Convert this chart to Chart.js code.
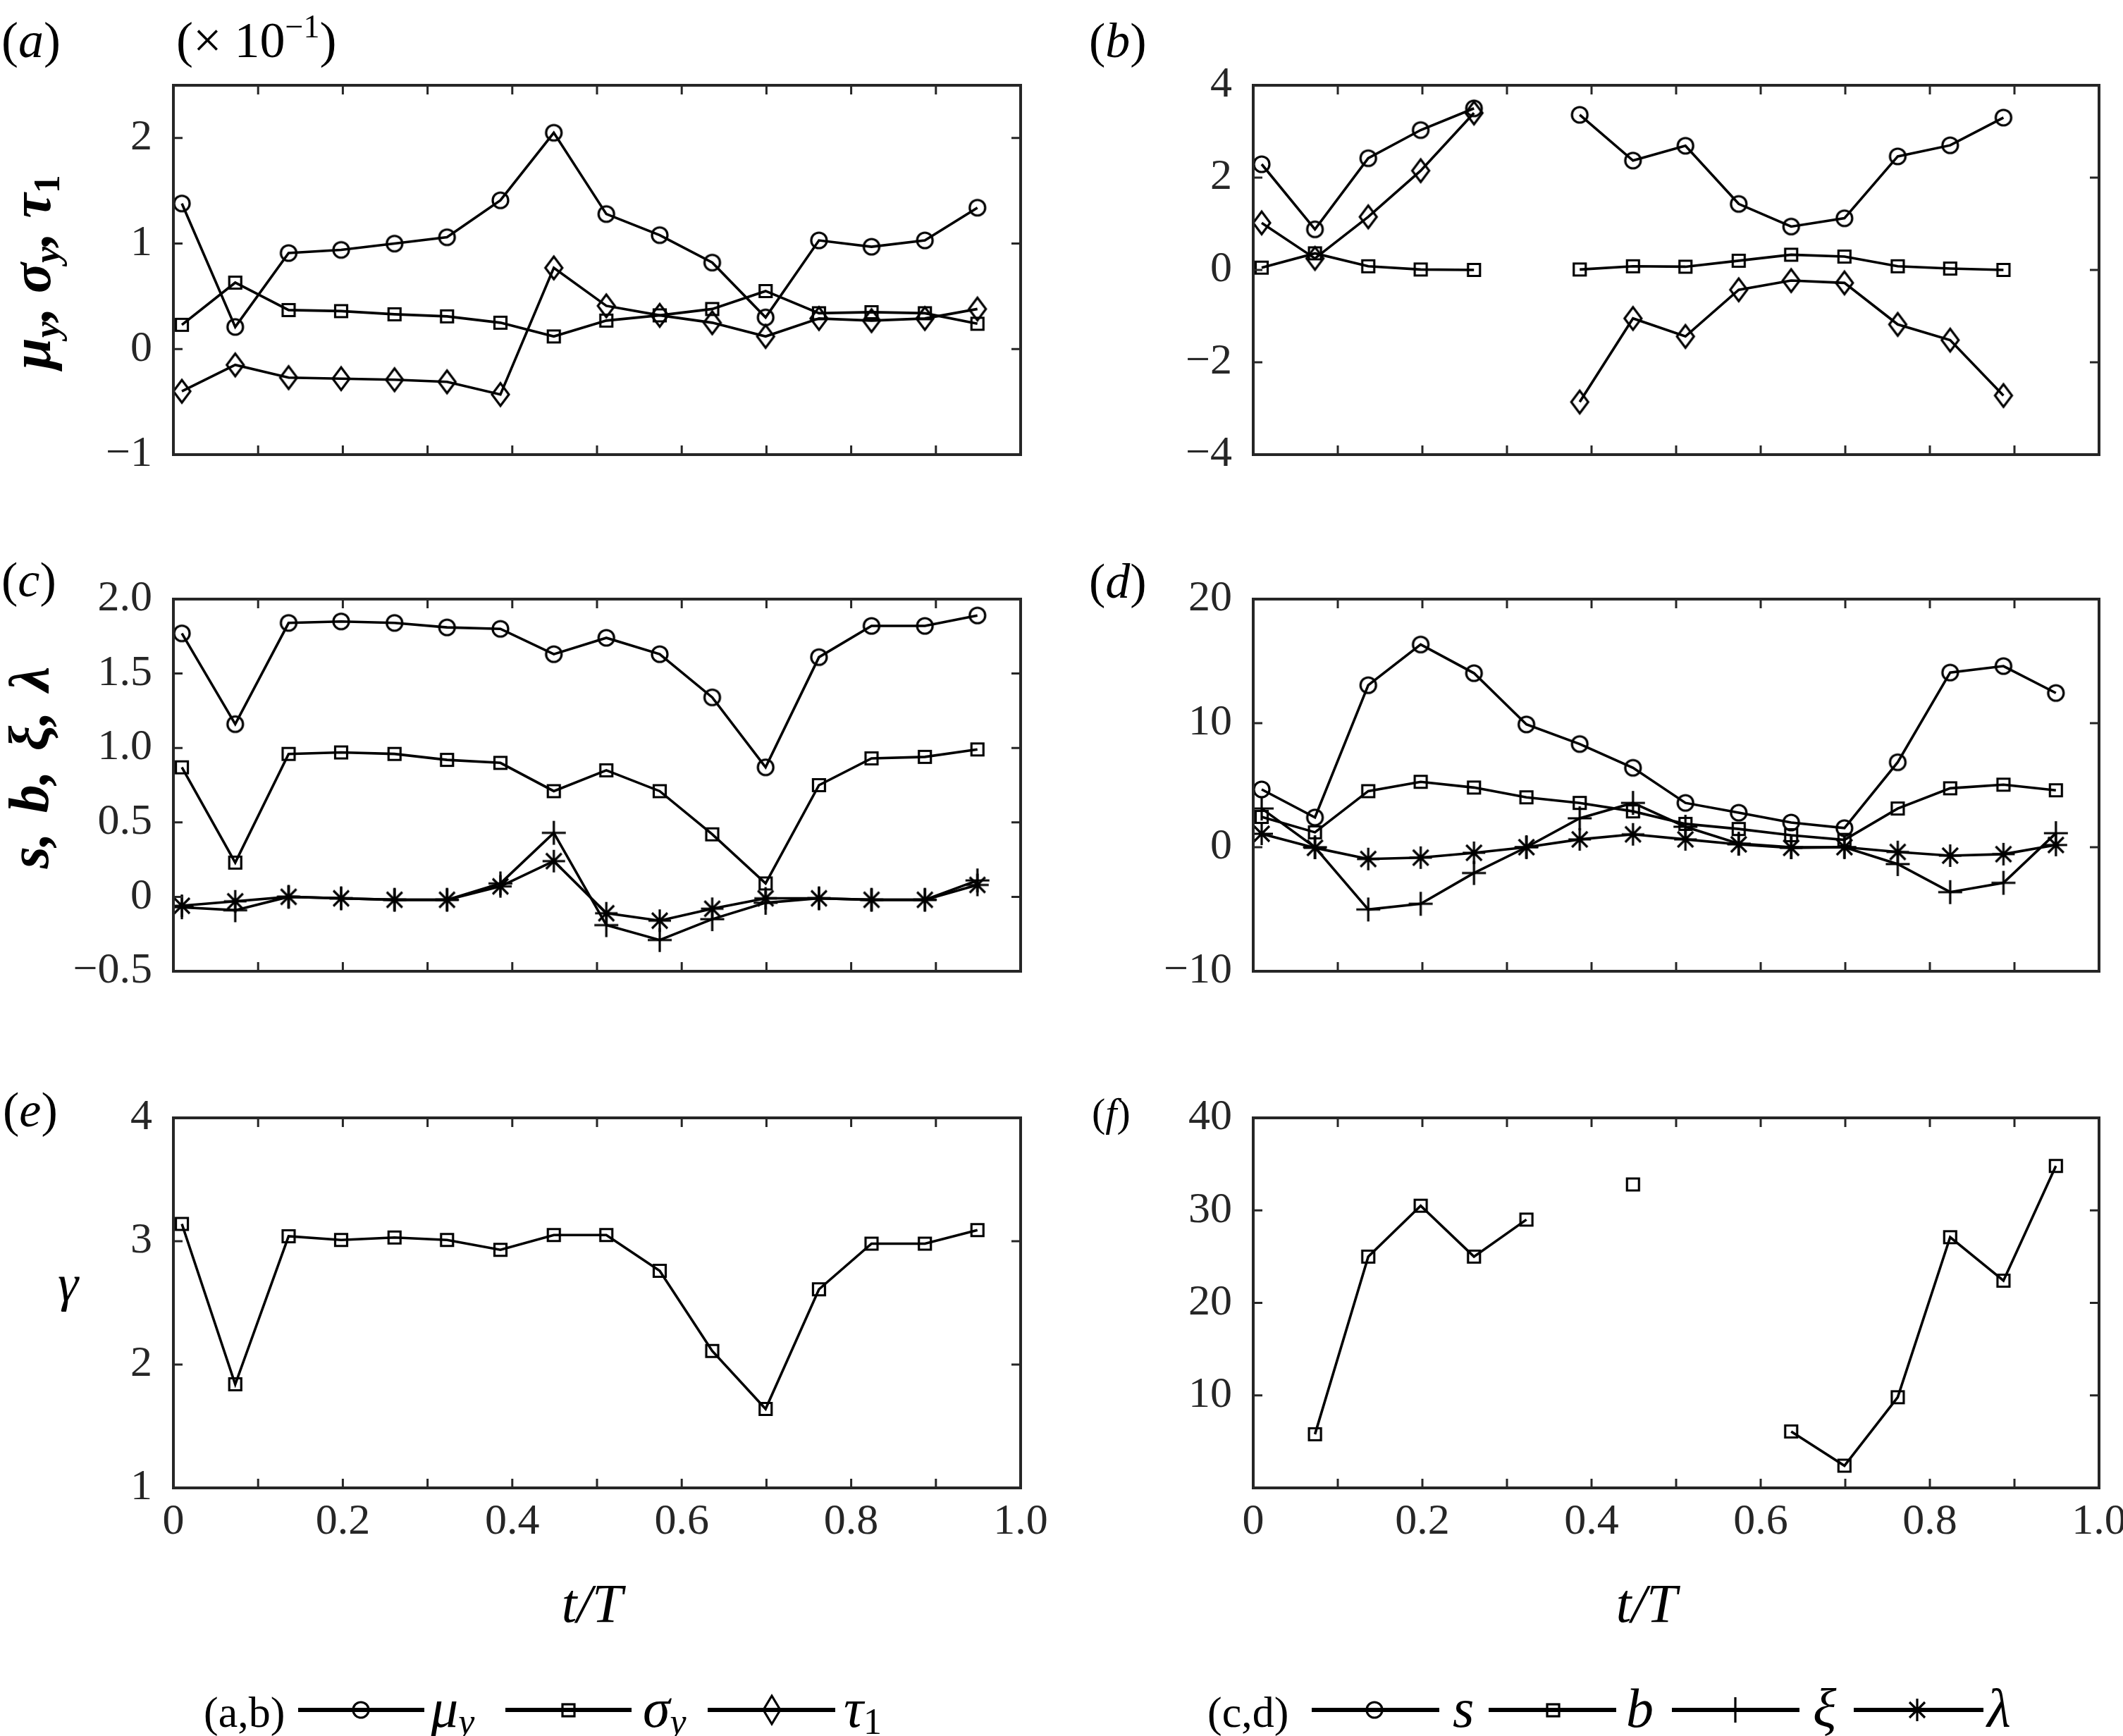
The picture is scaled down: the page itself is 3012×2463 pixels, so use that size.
<!DOCTYPE html>
<html>
<head>
<meta charset="utf-8">
<script src="https://cdn.jsdelivr.net/npm/chart.js@4.4.1/dist/chart.umd.min.js"></script>
<style>
    html, body { margin: 0; padding: 0; background: #fff; }
    #page { position: relative; width: 3012px; height: 2463px; overflow: hidden; background: #fff; }
    #page canvas { position: absolute; }
    #overlay { position: absolute; left: 0; top: 0; font-family: "Liberation Serif", serif; }
</style>
</head>
<body>
<div id="page">
    <canvas id="chartA"></canvas>
    <canvas id="chartB"></canvas>
    <canvas id="chartC"></canvas>
    <canvas id="chartD"></canvas>
    <canvas id="chartE"></canvas>
    <canvas id="chartF"></canvas>

    <svg id="overlay" width="3012" height="2463" fill="#000">
        <!-- panel letters -->
        <text x="2" y="81" font-size="72">(<tspan font-style="italic">a</tspan>)</text>
        <text x="250" y="81" font-size="72">(× 10<tspan font-size="46" dy="-28">−1</tspan><tspan dy="28">)</tspan></text>
        <text x="1545" y="81" font-size="70">(<tspan font-style="italic">b</tspan>)</text>
        <text x="2" y="846" font-size="70">(<tspan font-style="italic">c</tspan>)</text>
        <text x="1545" y="848" font-size="70">(<tspan font-style="italic">d</tspan>)</text>
        <text x="4" y="1598" font-size="70">(<tspan font-style="italic">e</tspan>)</text>
        <text x="1549" y="1598" font-size="58">(<tspan font-style="italic">f</tspan>)</text>

        <!-- y titles -->
        <text transform="translate(71,386) rotate(-90)" text-anchor="middle" font-size="80" font-weight="bold" font-style="italic">μ<tspan font-size="52" dy="13">y</tspan><tspan dy="-13">, σ</tspan><tspan font-size="52" dy="13">y</tspan><tspan dy="-13">, τ</tspan><tspan font-size="52" dy="13" font-style="normal">1</tspan></text>
        <text transform="translate(68,1089) rotate(-90)" text-anchor="middle" font-size="80" font-weight="bold" font-style="italic" word-spacing="8">s, b, ξ, λ</text>
        <text x="82" y="1845" font-size="74" font-style="italic">γ</text>

        <!-- x titles -->
        <text x="840" y="2301" font-size="78" font-style="italic" text-anchor="middle">t/T</text>
        <text x="2336" y="2301" font-size="78" font-style="italic" text-anchor="middle">t/T</text>

        <!-- legends -->
        <g stroke="#000" stroke-width="6" fill="none">
            <line x1="423" y1="2426" x2="602" y2="2426"/>
            <line x1="717" y1="2426" x2="896" y2="2426"/>
            <line x1="1004" y1="2426" x2="1185" y2="2426"/>
            <line x1="1861" y1="2426" x2="2042" y2="2426"/>
            <line x1="2112" y1="2426" x2="2293" y2="2426"/>
            <line x1="2372" y1="2426" x2="2553" y2="2426"/>
            <line x1="2630" y1="2426" x2="2814" y2="2426"/>
        </g>
        <g stroke="#000" stroke-width="3.2" fill="none">
            <circle cx="512" cy="2426" r="11"/>
            <rect x="798" y="2418" width="17" height="17"/>
            <path d="M1095 2406 L1107 2426 L1095 2446 L1083 2426 Z"/>
            <circle cx="1950" cy="2426" r="11"/>
            <rect x="2195" y="2418" width="17" height="17"/>
            <path d="M2462 2408 L2462 2444 M2444 2426 L2480 2426"/>
            <path d="M2720 2410 L2720 2442 M2704 2426 L2736 2426 M2709 2415 L2731 2437 M2731 2415 L2709 2437"/>
        </g>
        <text x="289" y="2450" font-size="62">(a,b)</text>
        <text x="611" y="2450" font-size="78" font-style="italic">μ<tspan font-size="52" dy="10">y</tspan></text>
        <text x="912" y="2450" font-size="78" font-style="italic">σ<tspan font-size="52" dy="10">y</tspan></text>
        <text x="1197" y="2450" font-size="78" font-style="italic">τ<tspan font-size="52" dy="10" font-style="normal">1</tspan></text>

        <text x="1713" y="2450" font-size="62">(c,d)</text>
        <text x="2061" y="2450" font-size="78" font-style="italic">s</text>
        <text x="2307" y="2450" font-size="78" font-style="italic">b</text>
        <text x="2572" y="2450" font-size="78" font-style="italic">ξ</text>
        <text x="2819" y="2450" font-size="78" font-style="italic">λ</text>
    </svg>
</div>

<script>
const axisColor = "#262626";

// t/T of each sample
const tT = [0.010, 0.073, 0.136, 0.198, 0.261, 0.323, 0.386, 0.449, 0.511, 0.574, 0.636, 0.699, 0.762, 0.824, 0.887, 0.949];

const xTicks = [0, 0.1, 0.2, 0.3, 0.4, 0.5, 0.6, 0.7, 0.8, 0.9, 1.0];
const xTickLabels = ["0", "", "0.2", "", "0.4", "", "0.6", "", "0.8", "", "1.0"];

// (a)  values x 10^-1
const muA = [1.38, 0.21, 0.91, 0.94, 1.00, 1.06, 1.41, 2.05, 1.28, 1.08, 0.82, 0.30, 1.03, 0.97, 1.03, 1.34];
const sigmaA = [0.23, 0.63, 0.37, 0.36, 0.33, 0.31, 0.25, 0.12, 0.27, 0.32, 0.38, 0.55, 0.34, 0.35, 0.34, 0.24];
const tauA = [-0.40, -0.15, -0.27, -0.28, -0.29, -0.31, -0.43, 0.77, 0.41, 0.32, 0.25, 0.12, 0.29, 0.27, 0.29, 0.38];
const yTicksA = [-1, 0, 1, 2];
const yLabelsA = ["−1", "0", "1", "2"];

// (b)
const muB = [2.29, 0.88, 2.42, 3.03, 3.50, null, 3.36, 2.37, 2.69, 1.43, 0.94, 1.12, 2.46, 2.70, 3.30, null];
const sigmaB = [0.05, 0.36, 0.08, 0.01, 0.00, null, 0.01, 0.08, 0.07, 0.20, 0.33, 0.29, 0.08, 0.03, 0.00, null];
const tauB = [1.02, 0.25, 1.15, 2.15, 3.40, null, -2.86, -1.05, -1.44, -0.43, -0.23, -0.28, -1.18, -1.52, -2.72, null];
const yTicksB = [-4, -2, 0, 2, 4];
const yLabelsB = ["−4", "−2", "0", "2", "4"];

// (c)
const sC = [1.77, 1.16, 1.84, 1.85, 1.84, 1.81, 1.80, 1.63, 1.74, 1.63, 1.34, 0.87, 1.61, 1.82, 1.82, 1.89];
const bC = [0.87, 0.23, 0.96, 0.97, 0.96, 0.92, 0.90, 0.71, 0.85, 0.71, 0.42, 0.09, 0.75, 0.93, 0.94, 0.99];
const xiC = [-0.07, -0.09, 0.00, -0.01, -0.02, -0.02, 0.09, 0.43, -0.19, -0.29, -0.15, -0.04, -0.01, -0.02, -0.02, 0.11];
const lamC = [-0.06, -0.03, 0.00, -0.01, -0.02, -0.02, 0.07, 0.24, -0.11, -0.16, -0.08, -0.01, -0.01, -0.02, -0.02, 0.08];
const yTicksC = [-0.5, 0, 0.5, 1.0, 1.5, 2.0];
const yLabelsC = ["−0.5", "0", "0.5", "1.0", "1.5", "2.0"];

// (d)
const sD = [4.66, 2.40, 13.06, 16.34, 14.03, 9.90, 8.32, 6.40, 3.57, 2.78, 1.99, 1.54, 6.85, 14.08, 14.60, 12.43];
const bD = [2.44, 1.20, 4.52, 5.27, 4.81, 4.02, 3.57, 2.89, 1.88, 1.47, 0.97, 0.59, 3.12, 4.75, 5.04, 4.59];
const xiD = [3.12, 0.00, -5.02, -4.56, -2.08, 0.00, 2.33, 3.57, 1.65, 0.29, 0.00, 0.00, -1.36, -3.62, -2.87, 1.13];
const lamD = [1.08, -0.05, -0.95, -0.84, -0.45, 0.00, 0.63, 1.04, 0.63, 0.23, -0.05, 0.00, -0.38, -0.68, -0.56, 0.18];
const yTicksD = [-10, 0, 10, 20];
const yLabelsD = ["−10", "0", "10", "20"];

// (e)
const gammaE = [3.14, 1.84, 3.04, 3.01, 3.03, 3.01, 2.93, 3.05, 3.05, 2.76, 2.11, 1.64, 2.61, 2.98, 2.98, 3.09];
const yTicksE = [1, 2, 3, 4];
const yLabelsE = ["1", "2", "3", "4"];

// (f)
const gammaF = [null, 5.8, 25.0, 30.5, 25.0, 29.0, null, 32.8, null, null, 6.1, 2.4, 9.8, 27.1, 22.4, 34.8];
const yTicksF = [0, 10, 20, 30, 40];
const yLabelsF = ["", "10", "20", "30", "40"];

Chart.defaults.font.family = "Liberation Serif";
Chart.defaults.color = axisColor;

// hollow marker glyphs
function makeMarker(kind) {
    const c = document.createElement("canvas");
    const sizes = { circle: [30, 30], square: [26, 26], diamond: [32, 40], plus: [40, 40], star: [38, 38] };
    c.width = sizes[kind][0];
    c.height = sizes[kind][1];
    const g = c.getContext("2d");
    const cx = c.width / 2;
    const cy = c.height / 2;
    g.strokeStyle = "#000";
    g.lineWidth = 3.2;
    g.beginPath();
    if (kind === "circle") {
        g.arc(cx, cy, 11, 0, Math.PI * 2);
    } else if (kind === "square") {
        g.rect(cx - 8.5, cy - 8.5, 17, 17);
    } else if (kind === "diamond") {
        g.moveTo(cx, cy - 16);
        g.lineTo(cx + 12, cy);
        g.lineTo(cx, cy + 16);
        g.lineTo(cx - 12, cy);
        g.closePath();
    } else if (kind === "plus") {
        g.moveTo(cx, cy - 17);
        g.lineTo(cx, cy + 17);
        g.moveTo(cx - 17, cy);
        g.lineTo(cx + 17, cy);
    } else if (kind === "star") {
        g.moveTo(cx, cy - 16);
        g.lineTo(cx, cy + 16);
        g.moveTo(cx - 16, cy);
        g.lineTo(cx + 16, cy);
        g.moveTo(cx - 11, cy - 11);
        g.lineTo(cx + 11, cy + 11);
        g.moveTo(cx + 11, cy - 11);
        g.lineTo(cx - 11, cy + 11);
    }
    g.stroke();
    return c;
}

const markers = {
    circle: makeMarker("circle"),
    square: makeMarker("square"),
    diamond: makeMarker("diamond"),
    plus: makeMarker("plus"),
    star: makeMarker("star"),
};

function points(values) {
    return tT.map((x, i) => ({ x: x, y: values[i] }));
}

// box with inward ticks on all four sides
const framePlugin = {
    id: "frame",
    afterDraw(chart) {
        const { ctx, chartArea: a } = chart;
        const x = chart.scales.x;
        const y = chart.scales.y;
        const len = 13;
        ctx.save();
        ctx.strokeStyle = axisColor;
        ctx.lineWidth = 3;
        ctx.beginPath();
        x.ticks.forEach((t) => {
            const px = x.getPixelForValue(t.value);
            if (px < a.left + 2 || px > a.right - 2) return;
            ctx.moveTo(px, a.bottom);
            ctx.lineTo(px, a.bottom - len);
            ctx.moveTo(px, a.top);
            ctx.lineTo(px, a.top + len);
        });
        y.ticks.forEach((t) => {
            const py = y.getPixelForValue(t.value);
            if (py < a.top + 2 || py > a.bottom - 2) return;
            ctx.moveTo(a.left, py);
            ctx.lineTo(a.left + len, py);
            ctx.moveTo(a.right, py);
            ctx.lineTo(a.right - len, py);
        });
        ctx.stroke();
        ctx.lineWidth = 4;
        ctx.strokeRect(a.left, a.top, a.right - a.left, a.bottom - a.top);
        ctx.restore();
    },
};

const tickFont = { family: "Liberation Serif", size: 62, style: "normal", weight: "normal" };

function drawPanel(id, box, series, yMin, yMax, yTicks, yLabels, showX) {
    // margins big enough that chart.js keeps the plot box where we ask
    const ml = 180;
    const mr = 60;
    const mt = 90;
    const mb = showX ? 110 : 90;
    const canvas = document.getElementById(id);
    canvas.width = box.r - box.l + ml + mr;
    canvas.height = box.b - box.t + mt + mb;
    canvas.style.left = box.l - ml + "px";
    canvas.style.top = box.t - mt + "px";

    new Chart(canvas, {
        type: "line",
        data: {
            datasets: series.map((s) => ({
                data: points(s.values),
                borderColor: "#000",
                borderWidth: 3.6,
                pointStyle: markers[s.marker],
                pointRadius: 10,
                spanGaps: false,
                tension: 0,
                fill: false,
            })),
        },
        options: {
            responsive: false,
            animation: false,
            devicePixelRatio: 1,
            events: [],
            layout: { padding: { left: 0, right: mr, top: mt, bottom: 0 } },
            plugins: {
                legend: { display: false },
                tooltip: { enabled: false },
            },
            scales: {
                x: {
                    type: "linear",
                    min: 0,
                    max: 1,
                    grid: { display: false, drawTicks: false },
                    border: { display: false },
                    afterBuildTicks: (s) => {
                        s.ticks = xTicks.map((v) => ({ value: v }));
                    },
                    afterFit: (s) => {
                        s.height = mb;
                    },
                    ticks: {
                        display: showX,
                        autoSkip: false,
                        maxRotation: 0,
                        padding: 12,
                        color: axisColor,
                        font: tickFont,
                        callback: (v, i) => xTickLabels[i],
                    },
                },
                y: {
                    type: "linear",
                    min: yMin,
                    max: yMax,
                    grid: { display: false, drawTicks: false },
                    border: { display: false },
                    afterBuildTicks: (s) => {
                        s.ticks = yTicks.map((v) => ({ value: v }));
                    },
                    afterFit: (s) => {
                        s.width = ml;
                    },
                    ticks: {
                        padding: 30,
                        color: axisColor,
                        font: tickFont,
                        callback: (v, i) => yLabels[i],
                    },
                },
            },
        },
        plugins: [framePlugin],
    });
}

function drawAll() {
    drawPanel("chartA", { l: 246, t: 121, r: 1448, b: 645 },
        [{ values: muA, marker: "circle" }, { values: sigmaA, marker: "square" }, { values: tauA, marker: "diamond" }],
        -1, 2.5, yTicksA, yLabelsA, false);

    drawPanel("chartB", { l: 1778, t: 121, r: 2978, b: 645 },
        [{ values: muB, marker: "circle" }, { values: sigmaB, marker: "square" }, { values: tauB, marker: "diamond" }],
        -4, 4, yTicksB, yLabelsB, false);

    drawPanel("chartC", { l: 246, t: 850, r: 1448, b: 1378 },
        [{ values: sC, marker: "circle" }, { values: bC, marker: "square" }, { values: xiC, marker: "plus" }, { values: lamC, marker: "star" }],
        -0.5, 2.0, yTicksC, yLabelsC, false);

    drawPanel("chartD", { l: 1778, t: 850, r: 2978, b: 1378 },
        [{ values: sD, marker: "circle" }, { values: bD, marker: "square" }, { values: xiD, marker: "plus" }, { values: lamD, marker: "star" }],
        -10, 20, yTicksD, yLabelsD, false);

    drawPanel("chartE", { l: 246, t: 1586, r: 1448, b: 2111 },
        [{ values: gammaE, marker: "square" }],
        1, 4, yTicksE, yLabelsE, true);

    drawPanel("chartF", { l: 1778, t: 1586, r: 2978, b: 2111 },
        [{ values: gammaF, marker: "square" }],
        0, 40, yTicksF, yLabelsF, true);
}

// wait for the serif face so the canvas labels don't fall back to sans
document.fonts.load("62px 'Liberation Serif'").then(drawAll, drawAll);
</script>
</body>
</html>
